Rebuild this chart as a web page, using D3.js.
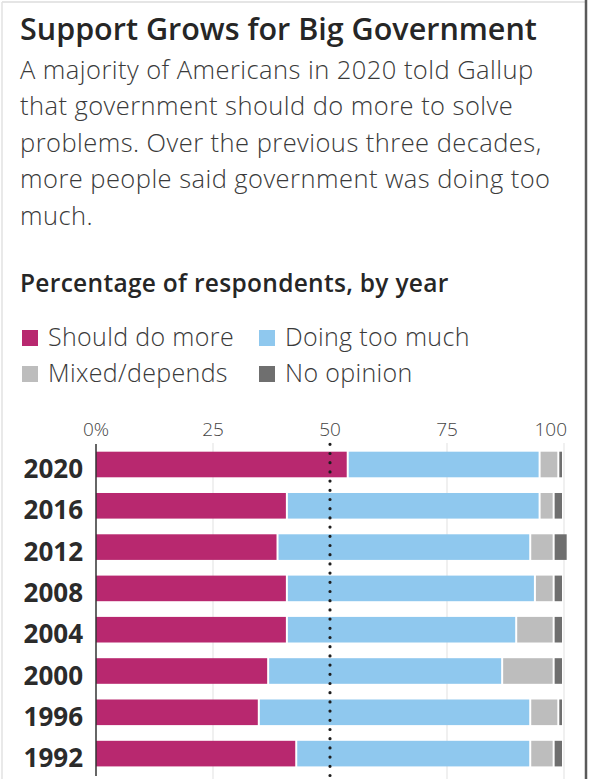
<!DOCTYPE html>
<html>
<head>
<meta charset="utf-8">
<script src="https://cdn.jsdelivr.net/npm/d3@7"></script>
<style>
  html, body { margin: 0; padding: 0; background: #fff; }
  svg { display: block; }
</style>
</head>
<body>
<svg id="chart" width="590" height="779"></svg>
<script>
// ---- data ----
const years = ["2020", "2016", "2012", "2008", "2004", "2000", "1996", "1992"];
const shouldDoMore = [54, 41, 39, 41, 41, 37, 35, 43];
const doingTooMuch = [41, 54, 54, 53, 49, 50, 58, 50];
const mixedDepends = [4, 3, 5, 4, 8, 11, 6, 5];
const noOpinion = [1, 2, 3, 2, 2, 2, 1, 2];
const seriesNames = ["Should do more", "Doing too much", "Mixed/depends", "No opinion"];
const seriesColors = ["#b8286f", "#8fc8ee", "#bdbdbd", "#6f6f6f"];
const tickValues = [0, 25, 50, 75, 100];
const tickLabels = ["0%", "25", "50", "75", "100"];
const referenceValue = 50;

const titleText = "Support Grows for Big Government";
const subtitleLines = [
  "A majority of Americans in 2020 told Gallup",
  "that government should do more to solve",
  "problems. Over the previous three decades,",
  "more people said government was doing too",
  "much."
];
const axisTitle = "Percentage of respondents, by year";

// ---- build table ----
const keys = ["more", "too", "mixed", "none"];
const table = years.map((y, i) => ({
  year: y,
  more: shouldDoMore[i],
  too: doingTooMuch[i],
  mixed: mixedDepends[i],
  none: noOpinion[i]
}));
const stacked = d3.stack().keys(keys)(table);

const svg = d3.select("#chart");
const sans = "'Open Sans', Roboto, sans-serif";

// frame
svg.append("line").attr("x1", 2).attr("x2", 585).attr("y1", 2).attr("y2", 2)
  .attr("stroke", "#dcdcdc").attr("stroke-width", 1.5);
svg.append("line").attr("x1", 2).attr("x2", 2).attr("y1", 2).attr("y2", 779)
  .attr("stroke", "#e2e2e2").attr("stroke-width", 1.5);
svg.append("line").attr("x1", 586).attr("x2", 586).attr("y1", 0).attr("y2", 779)
  .attr("stroke", "#5a5a5a").attr("stroke-width", 2.5);

// title
svg.append("text").attr("x", 20).attr("y", 40)
  .attr("font-family", sans).attr("font-weight", 600)
  .attr("font-size", 30.5).attr("fill", "#262626").text(titleText);

// subtitle
svg.append("g").selectAll("text").data(subtitleLines).join("text")
  .attr("x", 20).attr("y", (d, i) => 78.5 + i * 36.6)
  .attr("font-family", sans).attr("font-weight", 300)
  .attr("font-size", 25.5).attr("letter-spacing", 0.45)
  .attr("fill", "#3a3a3a").text(d => d);

// axis title
svg.append("text").attr("x", 20).attr("y", 292)
  .attr("font-family", sans).attr("font-weight", 600)
  .attr("font-size", 24.5).attr("letter-spacing", 0.3)
  .attr("fill", "#262626").text(axisTitle);

// legend
const legendPos = [[22, 346], [259, 346], [22, 382], [259, 382]];
const lg = svg.append("g").selectAll("g").data(seriesNames).join("g")
  .attr("transform", (d, i) => `translate(${legendPos[i][0]},${legendPos[i][1]})`);
lg.append("rect").attr("x", 0).attr("y", -16).attr("width", 16).attr("height", 16)
  .attr("fill", (d, i) => seriesColors[i]);
lg.append("text").attr("x", 26).attr("y", 0)
  .attr("font-family", sans).attr("font-weight", 300)
  .attr("font-size", 25).attr("letter-spacing", 0.35)
  .attr("fill", "#3a3a3a").text(d => d);

// scales
const x = d3.scaleLinear().domain([0, 100]).range([96, 564]);
const y = d3.scaleBand().domain(years).range([445, 773.1])
  .paddingInner(0.38).paddingOuter(0.162);
const color = d3.scaleOrdinal().domain(keys).range(seriesColors);

// gridlines
svg.append("g").selectAll("line").data(tickValues.filter(t => t !== 0 && t !== referenceValue)).join("line")
  .attr("x1", d => x(d)).attr("x2", d => x(d))
  .attr("y1", 443).attr("y2", 779)
  .attr("stroke", "#e1e1e1").attr("stroke-width", 1);

// tick labels
svg.append("g").selectAll("text").data(tickValues).join("text")
  .attr("x", (d, i) => i === tickValues.length - 1 ? x(d) + 3 : x(d))
  .attr("y", 436)
  .attr("text-anchor", (d, i) => i === tickValues.length - 1 ? "end" : "middle")
  .attr("font-family", sans).attr("font-weight", 300)
  .attr("font-size", 19).attr("fill", "#444")
  .text((d, i) => tickLabels[i]);

// bars
const gap = 2;
svg.append("g").selectAll("g").data(stacked).join("g")
  .attr("fill", d => color(d.key))
  .selectAll("rect").data(d => d).join("rect")
  .attr("x", d => x(d[0]))
  .attr("y", d => y(d.data.year))
  .attr("width", d => Math.max(0, x(d[1]) - x(d[0]) - gap))
  .attr("height", y.bandwidth());

// year labels
svg.append("g").selectAll("text").data(years).join("text")
  .attr("x", 83).attr("y", d => y(d) + y.bandwidth() / 2 + 13.5)
  .attr("text-anchor", "end")
  .attr("font-family", sans).attr("font-weight", 700)
  .attr("font-size", 26).attr("fill", "#2b2b2b").text(d => d);

// axis line
svg.append("line").attr("x1", x(0)).attr("x2", x(0))
  .attr("y1", 444).attr("y2", 776)
  .attr("stroke", "#333").attr("stroke-width", 1.5);

// reference dotted line at 50
svg.append("line").attr("x1", x(referenceValue)).attr("x2", x(referenceValue))
  .attr("y1", 444.3).attr("y2", 778)
  .attr("stroke", "#1e1e1e").attr("stroke-width", 3.2)
  .attr("stroke-linecap", "round").attr("stroke-dasharray", "0 9.2");
</script>
</body>
</html>
